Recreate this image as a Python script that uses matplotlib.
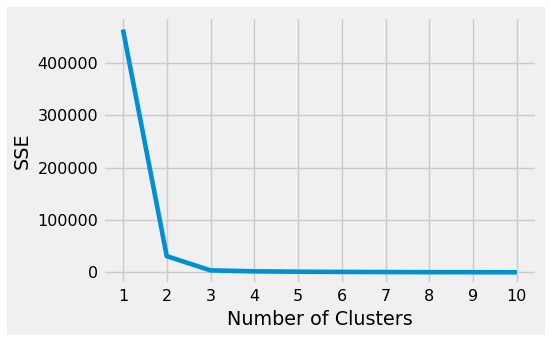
import matplotlib
matplotlib.use('Agg')
import matplotlib.pyplot as plt
from matplotlib.patches import Rectangle

plt.style.use('fivethirtyeight')

clusters = [1, 2, 3, 4, 5, 6, 7, 8, 9, 10]
sse = [464000, 31200, 4000, 2200, 1500, 1100, 800, 600, 500, 400]

fig = plt.figure(figsize=(5.5, 3.42), dpi=100, facecolor='white')
# grey figure panel with a thin white border round it
fig.patches.append(Rectangle((7 / 550, 7 / 342), 538 / 550, 328 / 342,
                             transform=fig.transFigure, facecolor='#f0f0f0',
                             edgecolor='none', zorder=-10))
ax = fig.add_axes([0.1878, 0.1684, 0.7878, 0.7807])
ax.plot(clusters, sse, lw=3.3)
ax.set_xticks(range(1, 11))
ax.set_xlabel('Number of Clusters', fontsize=13.8)
ax.set_ylabel('SSE', fontsize=13.8)
ax.tick_params(labelsize=11.5)
plt.savefig('out.png', dpi=100, facecolor='white')
